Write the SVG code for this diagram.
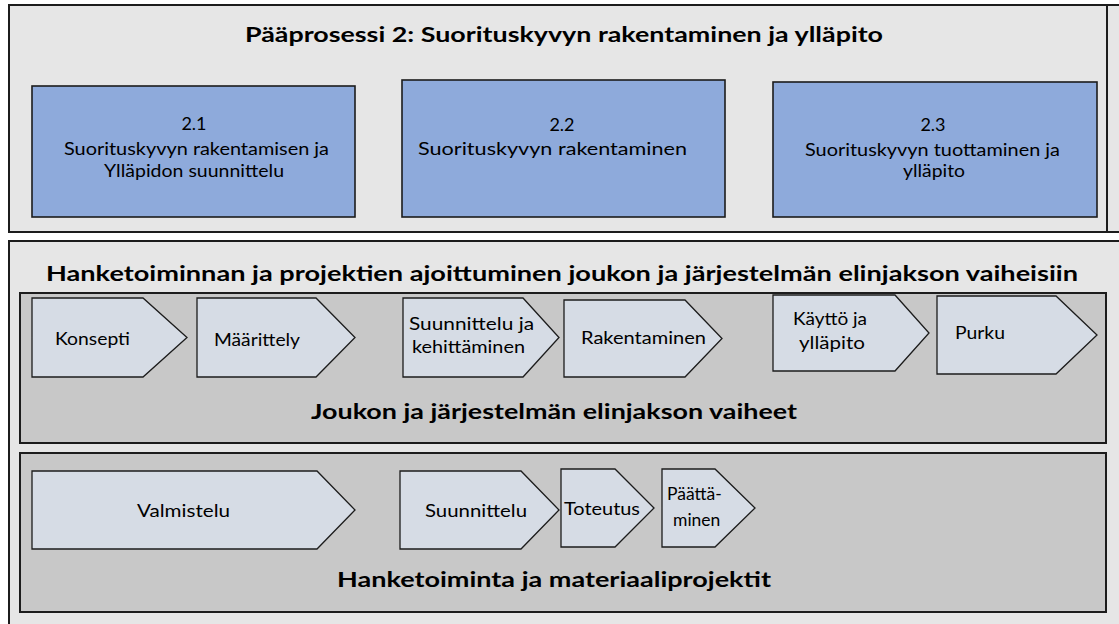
<svg xmlns="http://www.w3.org/2000/svg" width="1119" height="624" viewBox="0 0 1119 624">
  <style>
    .frame { fill: #e6e6e6; stroke: #1c1c1c; stroke-width: 2; }
    .band { fill: #c8c8c8; stroke: #1c1c1c; stroke-width: 2; }
    .proc { fill: #8eaadb; stroke: #1c1c1c; stroke-width: 1.6; }
    .phase { fill: #d6dce5; stroke: #1c1c1c; stroke-width: 1.3; }
    text { font-family: Lato, "Open Sans", "Liberation Sans", sans-serif; fill: #000; }
    .title { font-size: 21px; font-weight: bold; }
    .body { font-size: 18px; }
    .small { font-size: 17.5px; }
  </style>

  <rect x="0" y="0" width="1119" height="624" fill="#ffffff"/>

  <!-- Main process frame -->
  <g id="main-process">
    <rect class="frame" x="9" y="5" width="1130" height="227"/>
    <line x1="1107" y1="5" x2="1107" y2="232" stroke="#1c1c1c" stroke-width="2"/>
    <text class="title" x="245" y="42" textLength="638" lengthAdjust="spacingAndGlyphs">Pääprosessi 2: Suorituskyvyn rakentaminen ja ylläpito</text>
  </g>

  <g id="process-2-1">
    <rect class="proc" x="32" y="86" width="323" height="131"/>
    <text class="body" x="194" y="130" text-anchor="middle">2.1</text>
    <text class="body" x="64" y="155" textLength="265" lengthAdjust="spacingAndGlyphs">Suorituskyvyn rakentamisen ja</text>
    <text class="body" x="104" y="177" textLength="180" lengthAdjust="spacingAndGlyphs">Ylläpidon suunnittelu</text>
  </g>

  <g id="process-2-2">
    <rect class="proc" x="402" y="80" width="323" height="137"/>
    <text class="body" x="562" y="131" text-anchor="middle">2.2</text>
    <text class="body" x="418" y="155" textLength="269" lengthAdjust="spacingAndGlyphs">Suorituskyvyn rakentaminen</text>
  </g>

  <g id="process-2-3">
    <rect class="proc" x="773" y="82" width="324" height="135"/>
    <text class="body" x="933" y="131" text-anchor="middle">2.3</text>
    <text class="body" x="805" y="156" textLength="255" lengthAdjust="spacingAndGlyphs">Suorituskyvyn tuottaminen ja</text>
    <text class="body" x="903" y="177" textLength="62" lengthAdjust="spacingAndGlyphs">ylläpito</text>
  </g>

  <!-- Scheduling frame -->
  <g id="scheduling">
    <rect class="frame" x="9" y="241" width="1130" height="400"/>
    <text class="title" x="46" y="281" textLength="1032" lengthAdjust="spacingAndGlyphs">Hanketoiminnan ja projektien ajoittuminen joukon ja järjestelmän elinjakson vaiheisiin</text>
  </g>

  <!-- Lifecycle phases -->
  <g id="lifecycle">
    <rect class="band" x="20" y="293" width="1086" height="150"/>
    <text class="title" x="311" y="419" textLength="486" lengthAdjust="spacingAndGlyphs">Joukon ja järjestelmän elinjakson vaiheet</text>
  </g>

  <g id="phase-konsepti">
    <polygon class="phase" points="32,298 143,298 187,337.5 143,377 32,377"/>
    <text class="body" x="55" y="345" textLength="75" lengthAdjust="spacingAndGlyphs">Konsepti</text>
  </g>
  <g id="phase-maarittely">
    <polygon class="phase" points="197,298 316,298 355,337.5 316,377 197,377"/>
    <text class="body" x="214" y="346" textLength="86" lengthAdjust="spacingAndGlyphs">Määrittely</text>
  </g>
  <g id="phase-suunnittelu-kehittaminen">
    <polygon class="phase" points="403,298 523,298 559,337.5 523,377 403,377"/>
    <text class="body" x="409" y="330" textLength="125" lengthAdjust="spacingAndGlyphs">Suunnittelu ja</text>
    <text class="body" x="412" y="353" textLength="113" lengthAdjust="spacingAndGlyphs">kehittäminen</text>
  </g>
  <g id="phase-rakentaminen">
    <polygon class="phase" points="564,300 685,300 722,338.5 685,377 564,377"/>
    <text class="body" x="581" y="344" textLength="125" lengthAdjust="spacingAndGlyphs">Rakentaminen</text>
  </g>
  <g id="phase-kaytto">
    <polygon class="phase" points="773,295 895,295 929,333 895,371 773,371"/>
    <text class="body" x="793" y="325" textLength="74" lengthAdjust="spacingAndGlyphs">Käyttö ja</text>
    <text class="body" x="799" y="349" textLength="66" lengthAdjust="spacingAndGlyphs">ylläpito</text>
  </g>
  <g id="phase-purku">
    <polygon class="phase" points="937,296 1056,296 1097,335 1056,374 937,374"/>
    <text class="body" x="955" y="339" textLength="50" lengthAdjust="spacingAndGlyphs">Purku</text>
  </g>

  <!-- Projects -->
  <g id="projects">
    <rect class="band" x="20" y="453" width="1086" height="159"/>
    <text class="title" x="337" y="587" textLength="434" lengthAdjust="spacingAndGlyphs">Hanketoiminta ja materiaaliprojektit</text>
  </g>

  <g id="step-valmistelu">
    <polygon class="phase" points="32,471 317,471 355,510 317,549 32,549"/>
    <text class="body" x="137" y="517" textLength="93" lengthAdjust="spacingAndGlyphs">Valmistelu</text>
  </g>
  <g id="step-suunnittelu">
    <polygon class="phase" points="400,471 521,471 559,510 521,549 400,549"/>
    <text class="body" x="425" y="517" textLength="102" lengthAdjust="spacingAndGlyphs">Suunnittelu</text>
  </g>
  <g id="step-toteutus">
    <polygon class="phase" points="561,469 615,469 654,508 615,547 561,547"/>
    <text class="body" x="564" y="515" textLength="76" lengthAdjust="spacingAndGlyphs">Toteutus</text>
  </g>
  <g id="step-paattaminen">
    <polygon class="phase" points="662,469 715,469 755,508 715,547 662,547"/>
    <text class="small" x="667" y="500">Päättä-</text>
    <text class="small" x="673" y="526">minen</text>
  </g>
</svg>
